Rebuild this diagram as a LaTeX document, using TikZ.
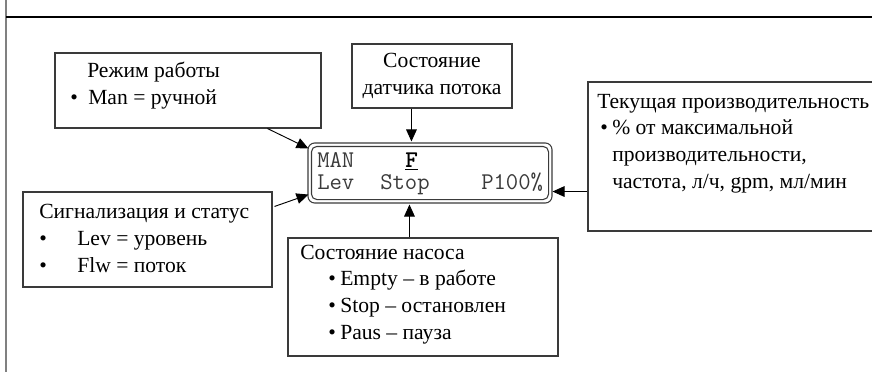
\documentclass[tikz,border=0pt]{standalone}
\usepackage{fontspec}
\setmainfont{Liberation Serif}
\usepackage{xcolor}
\usetikzlibrary{arrows.meta,calc,fit}
\definecolor{frame}{HTML}{808080}
\definecolor{edge}{HTML}{3A3A3A}
\definecolor{ink}{HTML}{000000}
\newcommand{\boxfont}{\fontsize{16.2}{20}\selectfont}
\newcommand{\lcdfont}{\ttfamily\fontsize{18}{18}\selectfont}
\tikzset{
  callout/.style={draw=edge, line width=0.8pt, inner sep=0pt},
  pointer/.style={draw=ink, line width=0.7pt, -{Triangle[length=9pt,width=8pt]}},
  boxLbl/.style={anchor=base west, inner sep=0pt, font=\boxfont, align=left, text=ink},
  lcdLbl/.style={anchor=base west, inner sep=0pt, font=\lcdfont, text=edge},
}

\begin{document}
\begin{tikzpicture}[x=0.75pt, y=-0.75pt]
  \useasboundingbox (0,0) rectangle (872,372);

  % frame
  \draw[frame, line width=1.2pt] (6,0) -- (6,372);
  \draw[ink, line width=0.9pt] (6,17) -- (872,17);

  % display
  \node[callout, rounded corners=5pt, fit={(308,143) (552,203)}] (lcd) {};
  \draw[edge, line width=0.8pt, rounded corners=4pt]
    ($(lcd.north west)+(4,4)$) rectangle ($(lcd.south east)+(-4,-4)$);
  \node[lcdLbl] (lcdman) at (317,167) {MAN};
  \node[lcdLbl, text=ink] (lcdflow) at (405,167) {\underline{\textbf{F}}};
  \node[lcdLbl] (lcdlev) at (317,189) {Lev};
  \node[lcdLbl] (lcdstop) at (380,189) {Stop};
  \node[lcdLbl] (lcdrate) at (481,189) {P100\%};

  % callouts (multi-line labels sit on their last baseline)
  \node[callout, fit={(55,53) (321,128)}] (modebox) {};
  \node[boxLbl] (modetitle) at (87,77) {Режим работы};
  \node[boxLbl] (modedot) at (70,104) {\textbullet};
  \node[boxLbl] (modetext) at (88,104) {Man = ручной};

  \node[callout, fit={(352,44) (512,108)}] (flowbox) {};
  \node[boxLbl, anchor=base, align=center] (flowtext) at (432,94)
    {Состояние\\датчика потока};

  \node[callout, fit={(588,82) (880,231)}] (ratebox) {};
  \node[boxLbl] (ratetitle) at (597,108) {Текущая производительность};
  \node[boxLbl] (ratedot) at (600,134) {\textbullet};
  \node[boxLbl] (ratetext) at (612,188)
    {\% от максимальной\\производительности,\\частота, л/ч, gpm, мл/мин};

  \node[callout, fit={(23,192) (272,287)}] (alarmbox) {};
  \node[boxLbl] (alarmtitle) at (39,218) {Сигнализация и статус};
  \node[boxLbl] (alarmdots) at (39,272) {\textbullet\\\textbullet};
  \node[boxLbl] (alarmtext) at (77,272) {Lev = уровень\\Flw = поток};

  \node[callout, fit={(288,238) (558,356)}] (pumpbox) {};
  \node[boxLbl] (pumptitle) at (300,259) {Состояние насоса};
  \node[boxLbl] (pumpdots) at (328,339) {\textbullet\\\textbullet\\\textbullet};
  \node[boxLbl] (pumptext) at (340,339)
    {Empty -- в работе\\Stop -- остановлен\\Paus -- пауза};

  % pointers
  \draw[pointer] ($(modebox.south west)+(213,0)$) -- ($(lcd.north west)+(1,6)$);
  \draw[pointer] ($(flowbox.south west)+(60,0)$) -- ($(lcd.north west)+(104,-1)$);
  \draw[pointer] ($(ratebox.south west)+(0,-40)$) -- ($(lcd.south east)+(0,-12)$);
  \draw[pointer] ($(alarmbox.north east)+(2,15)$) -- ($(lcd.south west)+(1,-9)$);
  \draw[pointer] ($(pumpbox.north west)+(122,0)$) -- ($(lcd.south west)+(102,1)$);
\end{tikzpicture}
\end{document}
